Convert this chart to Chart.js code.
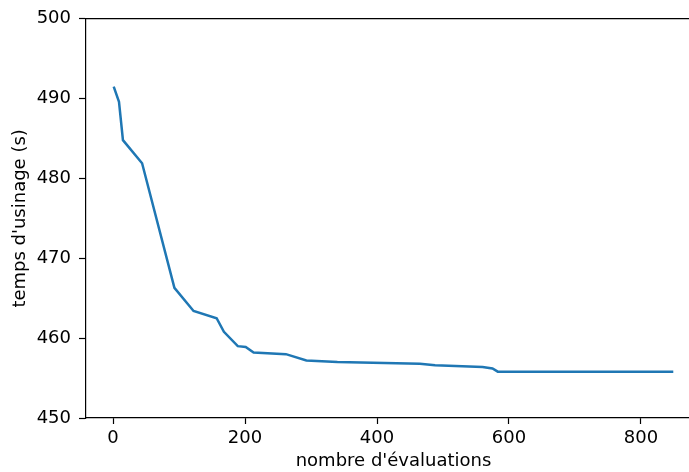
<!DOCTYPE html>
<html>
<head>
<meta charset="utf-8">
<script src="https://cdn.jsdelivr.net/npm/chart.js@4"></script>
<style>
  html, body { margin: 0; padding: 0; background: #fff; overflow: hidden; }
  #wrap { width: 689px; height: 472px; overflow: hidden; }
</style>
</head>
<body>
<div id="wrap"><canvas id="mycanvas" width="720" height="472"></canvas></div>
<script>
// evaluations (x) and machining time (y)
var evaluations = [1, 9, 15, 44, 93, 122, 157, 168, 189, 201, 213, 262, 293, 340, 465, 488, 560, 575, 583, 849];
var temps = [491.5, 489.6, 484.8, 481.9, 466.3, 463.4, 462.5, 460.8, 459.0, 458.9, 458.2, 458.0, 457.2, 457.0, 456.8, 456.6, 456.4, 456.2, 455.8, 455.8];
var xTicks = [0, 200, 400, 600, 800];
var yTicks = [450, 460, 470, 480, 490, 500];

var points = [];
for (var i in evaluations) {
	points.push({x: evaluations[i], y: temps[i]});
}

var font = {family: "DejaVu Sans", size: 18};

var ctx = document.getElementById("mycanvas");

var chart = new Chart(ctx, {
	type: 'scatter',
	data: {
		datasets: [
			{
				data: points,
				showLine: true,
				borderColor: "#1f77b4",
				backgroundColor: "#1f77b4",
				borderWidth: 2.5,
				pointRadius: 0,
				tension: 0
			}
		]
	},
	options: {
		responsive: false,
		animation: false,
		// canvas is wider than the page: the right spine falls outside, as in the picture
		layout: {padding: {left: 0, right: 19, top: 17, bottom: 0}},
		plugins: {legend: {display: false}, tooltip: {enabled: false}},
		scales: {
			x: {
				type: 'linear',
				position: 'bottom',
				min: -41,
				max: 891,
				afterBuildTicks: function(scale) {
					scale.ticks = xTicks.map(function(v) { return {value: v}; });
				},
				afterFit: function(scale) { scale.height = 54; },
				grid: {drawOnChartArea: false, tickLength: 6, color: "#000", tickWidth: 1.2},
				border: {color: "#000", width: 1.2},
				ticks: {color: "#000", font: font, padding: 4, maxRotation: 0},
				title: {display: true, text: "nombre d'évaluations", color: "#000", font: font, padding: {top: 0, bottom: 0}}
			},
			x2: {
				type: 'linear',
				position: 'top',
				min: -41,
				max: 891,
				afterFit: function(scale) { scale.height = 0; },
				grid: {drawOnChartArea: false, drawTicks: false},
				border: {color: "#000", width: 1.2},
				ticks: {display: false}
			},
			y: {
				type: 'linear',
				min: 450,
				max: 500,
				afterBuildTicks: function(scale) {
					scale.ticks = yTicks.map(function(v) { return {value: v}; });
				},
				afterFit: function(scale) { scale.width = 86; },
				grid: {drawOnChartArea: false, tickLength: 7, color: "#000", tickWidth: 1.2},
				border: {color: "#000", width: 1.2},
				ticks: {color: "#000", font: font, padding: 8},
				title: {display: true, text: "temps d'usinage (s)", color: "#000", font: font, padding: {top: 10, bottom: 0}}
			}
		}
	}
});
</script>
</body>
</html>
